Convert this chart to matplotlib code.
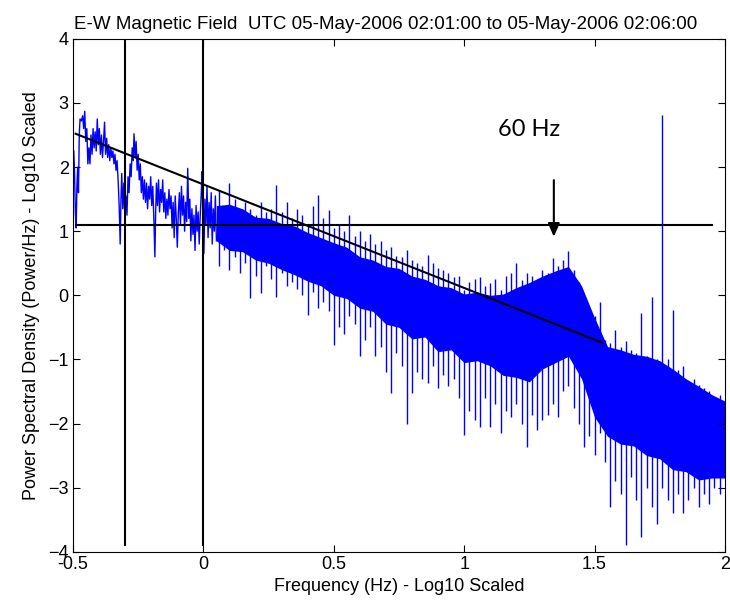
import numpy as np
import matplotlib
matplotlib.use('Agg')
from matplotlib import pyplot as plt

plt.rcParams['font.family'] = ['Liberation Sans', 'DejaVu Sans']

# low-frequency part of the spectrum (sparse points), log10 Hz vs log10 PSD
sparse_x = [-0.497, -0.494, -0.491, -0.488, -0.485, -0.482, -0.479, -0.476, -0.473, -0.468,
            -0.463, -0.459, -0.455, -0.451, -0.447, -0.443, -0.439, -0.435, -0.431, -0.427,
            -0.423, -0.419, -0.415, -0.411, -0.407, -0.403, -0.399, -0.395, -0.391, -0.387,
            -0.383, -0.379, -0.375, -0.371, -0.367, -0.363, -0.359, -0.355, -0.351, -0.347,
            -0.343, -0.339, -0.335, -0.331, -0.327, -0.323, -0.319, -0.316, -0.313, -0.309,
            -0.305, -0.301, -0.297, -0.293, -0.289, -0.285, -0.281, -0.277, -0.273, -0.269,
            -0.266, -0.262, -0.258, -0.254, -0.250, -0.246, -0.242, -0.238, -0.234, -0.230,
            -0.226, -0.222, -0.218, -0.214, -0.210, -0.206, -0.202, -0.198, -0.194, -0.190,
            -0.186, -0.183, -0.180, -0.176, -0.172, -0.168, -0.164, -0.160, -0.156, -0.152,
            -0.148, -0.144, -0.140, -0.136, -0.132, -0.128, -0.124, -0.120, -0.116, -0.112,
            -0.108, -0.104, -0.100, -0.096, -0.092, -0.088, -0.084, -0.080, -0.076, -0.072,
            -0.068, -0.064, -0.060, -0.056, -0.052, -0.048, -0.044, -0.040, -0.036, -0.032,
            -0.028, -0.024, -0.020, -0.016, -0.012, -0.008, -0.005, -0.002, 0.002, 0.006,
            0.010, 0.014, 0.018, 0.022, 0.026, 0.030, 0.034, 0.038, 0.042, 0.046, 0.050]
sparse_y = [2.25, 1.9, 1.3, 1.05, 1.7, 2.0, 1.6, 2.5, 2.75, 2.72,
            2.8, 2.6, 2.87, 2.4, 2.6, 2.05, 2.3, 2.05, 2.5, 2.2,
            2.6, 2.3, 2.55, 2.25, 2.75, 2.35, 2.6, 2.2, 2.5, 2.15,
            2.4, 2.7, 2.2, 2.45, 2.15, 2.35, 2.1, 2.3, 2.15, 2.25,
            2.05, 2.2, 1.95, 2.1, 1.8, 1.4, 0.8, 1.5, 1.9, 1.35,
            1.75, 1.2, 1.55, 1.25, 1.85, 1.6, 2.05, 1.85, 2.3, 2.1,
            2.52, 2.15, 2.4, 1.95, 2.2, 1.8, 2.05, 1.6, 1.85, 1.5,
            1.8, 1.45, 1.75, 1.35, 1.7, 1.5, 1.85, 1.4, 1.7, 1.2,
            0.6, 1.3, 1.75, 1.4, 1.8, 1.3, 1.65, 1.45, 1.8, 1.3,
            1.6, 1.2, 1.5, 1.25, 1.65, 1.35, 1.55, 1.05, 1.45, 0.9,
            1.55, 1.2, 0.75, 1.3, 1.6, 1.1, 1.7, 1.25, 1.55, 1.0,
            1.45, 1.15, 1.98, 1.2, 1.5, 0.85, 1.35, 0.95, 1.25, 0.7,
            1.4, 1.0, 1.3, 0.8, 1.25, 1.6, 1.93, 1.2, 0.65, 1.5,
            1.1, 1.7, 0.9, 1.45, 1.05, 1.6, 0.8, 1.35, 1.0, 1.55, 0.85]

# dense part: spike tops and bottoms every 0.02 from 0.06 to 2.00
dense_x = np.linspace(0.06, 2.00, 98)
dense_hi = [1.65, 1.4, 1.75, 1.5, 1.3, 1.45, 1.35, 1.25, 1.46, 1.3,
            1.35, 1.72, 1.3, 1.46, 1.2, 1.35, 1.25, 1.1, 1.4, 1.57,
            1.2, 1.33, 1.05, 1.1, 1.0, 1.26, 0.92, 1.0, 0.85, 0.95,
            0.8, 0.84, 0.7, 0.75, 0.62, 0.6, 0.7, 0.55, 0.5, 0.45,
            0.63, 0.5, 0.43, 0.4, 0.35, 0.29, 0.3, 0.09, 0.2, 0.25,
            0.29, 0.15, 0.19, 0.25, 0.09, 0.3, 0.35, 0.5, 0.24, 0.35,
            0.3, 0.2, 0.4, 0.35, 0.58, 0.45, 0.55, 0.69, 0.4, 0.2,
            -0.1, -0.2, -0.33, -0.1, -0.7, -0.75, -0.54, -0.8, -0.72, -0.85,
            -0.9, -0.28, -0.95, -0.02, -1.0, 2.82, -1.0, -0.23, -1.16, -1.1,
            -1.37, -1.3, -1.4, -1.45, -1.5, -1.58, -1.55, -1.65]
dense_lo = [0.45, 0.7, 0.4, 0.6, 0.35, 0.5, -0.04, 0.3, 0.03, 0.45,
            0.25, -0.02, 0.35, 0.14, 0.2, 0.1, 0.0, -0.3, 0.05, -0.2,
            -0.1, -0.25, -0.77, -0.5, -0.6, -0.33, -0.45, -0.95, -0.7, -0.5,
            -0.95, -0.8, -1.2, -1.53, -0.9, -1.1, -2.0, -1.53, -1.2, -1.3,
            -1.37, -1.1, -1.45, -1.25, -1.42, -1.3, -1.6, -2.18, -1.8, -1.94,
            -2.05, -1.6, -2.05, -1.7, -2.15, -1.8, -1.9, -1.7, -2.0, -2.36,
            -1.87, -2.1, -1.95, -1.87, -1.7, -1.9, -1.5, -1.42, -1.75, -2.0,
            -2.36, -2.2, -2.49, -2.15, -2.6, -3.3, -2.9, -3.1, -3.9, -2.83,
            -3.2, -3.77, -3.0, -3.3, -3.56, -3.0, -3.2, -3.4, -3.1, -3.4,
            -3.2, -3.0, -3.3, -3.1, -3.25, -3.0, -3.1, -2.85]

# solid band where the trace is too dense to separate
core_x = [0.05, 0.1, 0.15, 0.2, 0.25, 0.3, 0.35, 0.4, 0.45, 0.5,
          0.55, 0.6, 0.65, 0.7, 0.75, 0.8, 0.85, 0.9, 0.95, 1.0,
          1.05, 1.1, 1.15, 1.2, 1.25, 1.3, 1.35, 1.4, 1.45, 1.5,
          1.55, 1.6, 1.65, 1.7, 1.75, 1.8, 1.85, 1.9, 1.95, 2.0]
core_hi = [1.4, 1.42, 1.35, 1.22, 1.2, 1.12, 1.08, 0.98, 0.9, 0.82,
           0.75, 0.6, 0.55, 0.45, 0.42, 0.3, 0.25, 0.15, 0.12, 0.02,
           0.05, 0.0, 0.02, 0.12, 0.2, 0.3, 0.38, 0.45, 0.15, -0.35,
           -0.8, -0.85, -0.92, -0.95, -1.02, -1.15, -1.3, -1.42, -1.55, -1.65]
core_lo = [0.85, 0.7, 0.68, 0.55, 0.5, 0.4, 0.32, 0.22, 0.15, 0.0,
           -0.05, -0.2, -0.25, -0.45, -0.5, -0.68, -0.65, -0.88, -0.85, -1.05,
           -1.02, -1.1, -1.25, -1.28, -1.35, -1.15, -1.05, -0.95, -1.3, -1.9,
           -2.2, -2.32, -2.35, -2.5, -2.55, -2.72, -2.75, -2.88, -2.85, -2.85]

# black guide lines
vline_x = [-0.3, 0.0]
hline_y = 1.1
trend_x = [-0.49, 1.53]
trend_y = [2.52, -0.74]
arrow_x = 1.344
arrow_from, arrow_to = 1.84, 0.87

fig = plt.figure(figsize=(7.30, 6.07), dpi=100)
ax = fig.add_axes([0.1, 0.091, 0.893, 0.845])

ax.fill_between(core_x, core_lo, core_hi, color='#0000ff', lw=0)
ax.plot(sparse_x, sparse_y, color='#0000ff', lw=1.0)
ax.vlines(dense_x, dense_lo, dense_hi, color='#0000ff', lw=1.0)

for xv in vline_x:
    ax.plot([xv, xv], [3.99, -3.9], color='black', lw=1.5)
ax.plot([-0.49, 1.95], [hline_y, hline_y], color='black', lw=1.5)
ax.plot(trend_x, trend_y, color='black', lw=1.5)

ax.annotate('', xy=(arrow_x, arrow_to), xytext=(arrow_x, arrow_from),
            arrowprops=dict(arrowstyle='-|>,head_length=0.8,head_width=0.35',
                            color='black', lw=1.5))
ax.text(1.25, 2.59, '60 Hz', fontsize=17, family=['Lato', 'DejaVu Sans'],
        ha='center', va='center')

ax.set_xlim(-0.5, 2)
ax.set_ylim(-4, 4)
ax.set_xticks([-0.5, 0, 0.5, 1, 1.5, 2])
ax.set_xticklabels(['-0.5', '0', '0.5', '1', '1.5', '2'])
ax.set_yticks(range(-4, 5))
ax.tick_params(direction='in', top=True, right=True, labelsize=13, length=5, pad=3)
ax.set_title('E-W Magnetic Field  UTC 05-May-2006 02:01:00 to 05-May-2006 02:06:00',
             fontsize=13.5, pad=7, x=0.48)
ax.set_xlabel('Frequency (Hz) - Log10 Scaled', fontsize=13, labelpad=4)
ax.set_ylabel('Power Spectral Density (Power/Hz) - Log10 Scaled', fontsize=13, labelpad=6)

plt.savefig('out.png', dpi=100)
